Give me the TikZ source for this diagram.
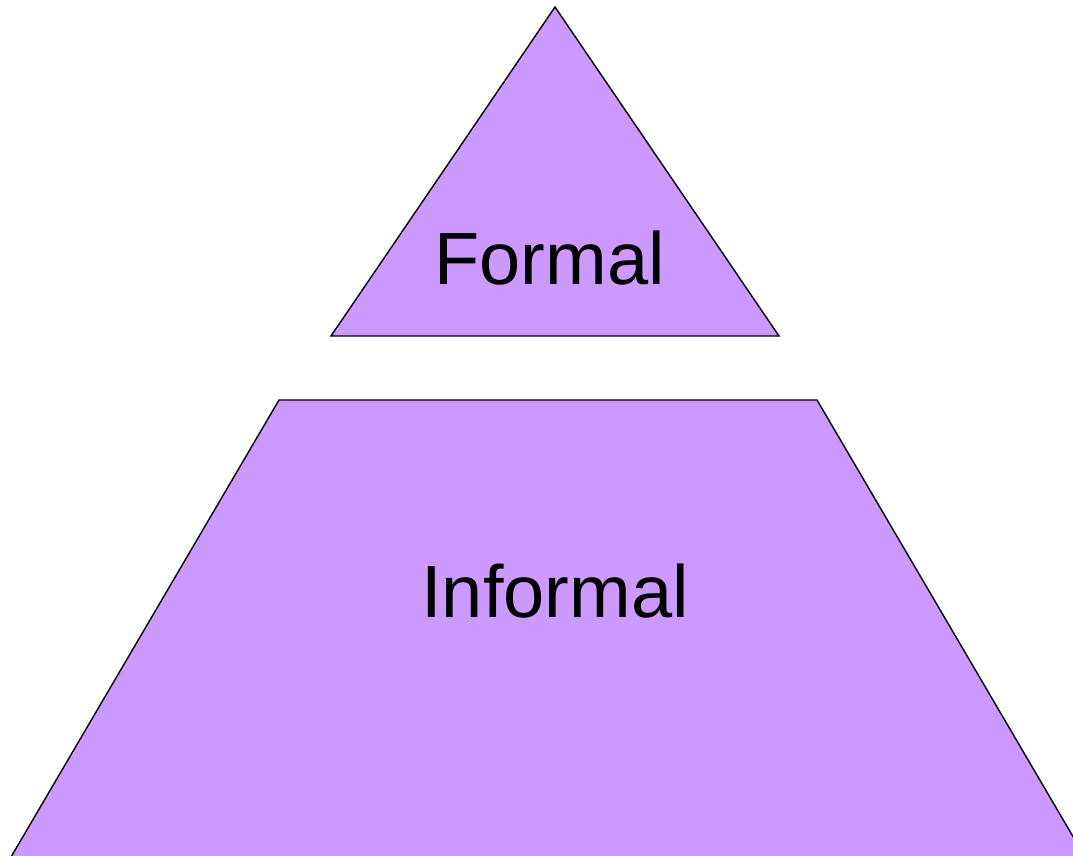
\documentclass[tikz,border=0pt]{standalone}
\usepackage{fontspec}
\setmainfont{Liberation Sans}
\definecolor{lilac}{HTML}{CC99FF}
\begin{document}
\begin{tikzpicture}[x=1pt,y=1pt,
  shapefill/.style={fill=lilac,draw=black,line width=1.4pt,line join=miter},
  lbl/.style={anchor=base,inner sep=0pt,font=\fontsize{74}{80}\selectfont}]
\useasboundingbox (0,0) rectangle (1073,855);
\clip (0,0) rectangle (1073,855);
\coordinate (tA) at (555,848);
\coordinate (tL) at (331,519);
\coordinate (tR) at (779,519);
\draw[shapefill] (tA) -- (tR) -- (tL) -- cycle;
\coordinate (qTL) at (279,455);
\coordinate (qTR) at (817,455);
\coordinate (qBR) at (1085,-2);
\coordinate (qBL) at (11,-2);
\draw[shapefill] (qTL) -- (qTR) -- (qBR) -- (qBL) -- cycle;
\node[lbl] (formal) at (549.5,570) {Formal};
\node[lbl] (informal) at (555,238) {Informal};
\end{tikzpicture}
\end{document}
